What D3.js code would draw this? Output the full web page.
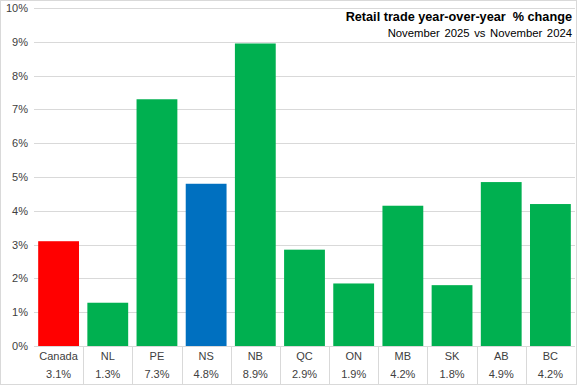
<!DOCTYPE html>
<html>
<head>
<meta charset="utf-8">
<script src="https://cdn.jsdelivr.net/npm/d3@7"></script>
<style>
  body { margin: 0; background: #fff; }
  svg { display: block; font-family: "Liberation Sans", Arial, sans-serif; }
</style>
</head>
<body>
<div id="chart"></div>
<script>
// values
const categories = ["Canada", "NL", "PE", "NS", "NB", "QC", "ON", "MB", "SK", "AB", "BC"];
const changes = [3.1, 1.28, 7.3, 4.8, 8.95, 2.85, 1.85, 4.15, 1.8, 4.85, 4.2];
const tableLabels = ["3.1%", "1.3%", "7.3%", "4.8%", "8.9%", "2.9%", "1.9%", "4.2%", "1.8%", "4.9%", "4.2%"];
const yTicks = [0, 1, 2, 3, 4, 5, 6, 7, 8, 9, 10];

const W = 577, H = 385;
const margin = { top: 8, right: 2, bottom: 39, left: 34 };

const svg = d3.select("#chart").append("svg")
  .attr("width", W).attr("height", H);

// outer border
svg.append("rect")
  .attr("x", 0.5).attr("y", 0.5)
  .attr("width", W - 1).attr("height", H - 1)
  .attr("fill", "#fff").attr("stroke", "#d9d9d9");

const x = d3.scaleBand()
  .domain(categories)
  .range([margin.left, W - margin.right])
  .paddingInner(0.17).paddingOuter(0.085);

const y = d3.scaleLinear()
  .domain([0, 10])
  .range([H - margin.bottom, margin.top]);

// gridlines
svg.append("g")
  .selectAll("line")
  .data(yTicks)
  .join("line")
  .attr("x1", margin.left).attr("x2", W - margin.right)
  .attr("y1", d => Math.round(y(d)) + 0.5).attr("y2", d => Math.round(y(d)) + 0.5)
  .attr("stroke", "#d9d9d9");

// y axis labels
svg.append("g")
  .selectAll("text")
  .data(yTicks)
  .join("text")
  .attr("x", 28).attr("y", d => y(d) + 4)
  .attr("text-anchor", "end")
  .attr("font-size", 11)
  .attr("fill", "#404040")
  .text(d => d + "%");

// bars
const colorOf = c => c === "Canada" ? "#ff0000" : c === "NS" ? "#0070c0" : "#00b050";
svg.append("g")
  .selectAll("rect")
  .data(categories)
  .join("rect")
  .attr("x", d => x(d))
  .attr("width", x.bandwidth())
  .attr("y", (d, i) => y(changes[i]))
  .attr("height", (d, i) => y(0) - y(changes[i]))
  .attr("fill", d => colorOf(d));

// data table under the axis
const step = x.step();
const colLeft = d => x(d) - step * x.paddingInner() / 2;
const table = svg.append("g");
table.selectAll("line.sep")
  .data(categories.slice(1))
  .join("line")
  .attr("class", "sep")
  .attr("x1", d => Math.round(colLeft(d)) + 0.5)
  .attr("x2", d => Math.round(colLeft(d)) + 0.5)
  .attr("y1", y(0)).attr("y2", H - 1)
  .attr("stroke", "#d9d9d9");

table.selectAll("text.cat")
  .data(categories)
  .join("text")
  .attr("class", "cat")
  .attr("x", d => x(d) + x.bandwidth() / 2)
  .attr("y", 360)
  .attr("text-anchor", "middle")
  .attr("font-size", 11)
  .attr("fill", "#404040")
  .text(d => d);

table.selectAll("text.val")
  .data(tableLabels)
  .join("text")
  .attr("class", "val")
  .attr("x", (d, i) => x(categories[i]) + x.bandwidth() / 2)
  .attr("y", 378)
  .attr("text-anchor", "middle")
  .attr("font-size", 11)
  .attr("fill", "#404040")
  .text(d => d);

// title
svg.append("text")
  .attr("x", 572).attr("y", 21)
  .attr("text-anchor", "end")
  .attr("font-size", 12.7).attr("font-weight", "bold")
  .attr("fill", "#000")
  .attr("xml:space", "preserve")
  .text("Retail trade year-over-year  % change");

svg.append("text")
  .attr("x", 572).attr("y", 37)
  .attr("text-anchor", "end")
  .attr("font-size", 11.3)
  .attr("word-spacing", 1.5)
  .attr("fill", "#000")
  .text("November 2025 vs November 2024");
</script>
</body>
</html>
